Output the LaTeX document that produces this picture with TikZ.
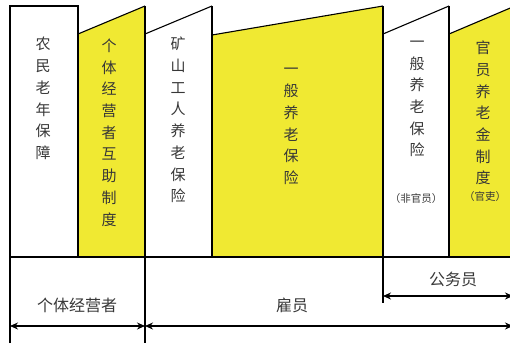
\documentclass[tikz,border=0pt]{standalone}
\usepackage{fontspec}
\newfontfamily\cjk{Noto Sans CJK SC}
\usetikzlibrary{arrows.meta}
\definecolor{boxyellow}{RGB}{240,233,50}
\definecolor{txt}{RGB}{55,55,55}
\begin{document}
\begin{tikzpicture}[x=1pt,y=-1pt,
  frame/.style={draw=black,line width=1.1pt},
  vtext/.style={font=\cjk\fontsize{15}{21.7}\selectfont, text=txt, align=center, inner sep=0pt},
  smalltext/.style={font=\cjk\fontsize{10.5}{12}\selectfont, text=txt, inner sep=0pt},
  lab/.style={font=\cjk\fontsize{16}{18}\selectfont, text=txt, inner sep=0pt},
  dimarrow/.style={line width=1.1pt, {Stealth[length=8pt,width=7pt]}-{Stealth[length=8pt,width=7pt]}}
]
\useasboundingbox (0,0) rectangle (510,343);
\clip (0,0) rectangle (510,343);
% coordinates
\coordinate (a1) at (10,326);
\coordinate (a2) at (145,326);
\coordinate (a3) at (513,326);
\coordinate (b1) at (383,296);
\coordinate (b2) at (513,296);
% yellow fills
\fill[boxyellow] (78,34) -- (145,6) -- (145,257) -- (78,257) -- cycle;
\fill[boxyellow] (212,35) -- (383,6) -- (383,257) -- (212,257) -- cycle;
\fill[boxyellow] (449,34) -- (515,6) -- (515,257) -- (449,257) -- cycle;
% frames
\draw[frame] (10,343) -- (10,6) -- (78,6) -- (78,257);
\draw[frame] (78,34) -- (145,6);
\draw[frame] (145,34) -- (212,6);
\draw[frame] (212,35) -- (383,6);
\draw[frame] (383,34) -- (449,6);
\draw[frame] (449,34) -- (515,6);
\draw[frame] (145,6) -- (145,343);
\draw[frame] (212,6) -- (212,257);
\draw[frame] (383,6) -- (383,303);
\draw[frame] (449,6) -- (449,257);
\draw[frame] (10,257) -- (515,257);
% vertical texts
\node[vtext] (t1) at (43,98.5) {农\\民\\老\\年\\保\\障};
\node[vtext] (t2) at (109,132.5) {个\\体\\经\\营\\者\\互\\助\\制\\度};
\node[vtext] (t3) at (178,120) {矿\\山\\工\\人\\养\\老\\保\\险};
\node[vtext] (t4) at (291,126.5) {一\\般\\养\\老\\保\\险};
\node[vtext] (t5) at (417,99) {一\\般\\养\\老\\保\\险};
\node[smalltext] (s5) at (416,199) {（非官员）};
\node[vtext] (t6) at (483,113) {官\\员\\养\\老\\金\\制\\度};
\node[smalltext] (s6) at (485,197) {（官吏）};
% bottom labels
\node[lab] (l1) at (77,305) {个体经营者};
\node[lab] (l2) at (292,305) {雇员};
\node[lab] (l3) at (453,279) {公务员};
% arrows
\draw[dimarrow] (a1) -- (a2);
\draw[dimarrow] (a2) -- (a3);
\draw[dimarrow] (b1) -- (b2);
\end{tikzpicture}
\end{document}
